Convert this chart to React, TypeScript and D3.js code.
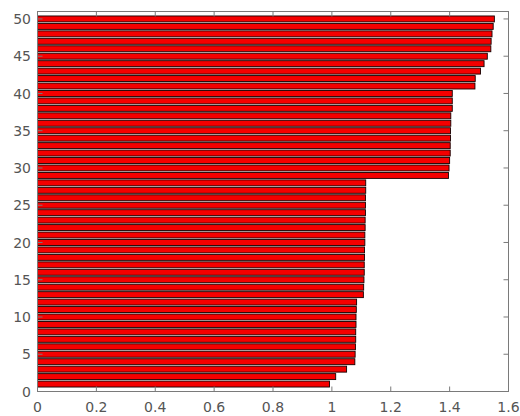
import React from "react";
import * as d3 from "d3";

// Bar values for categories 1..50 (sorted ascending)
const categories: number[] = d3.range(1, 51);
const values: number[] = [
  0.992, 1.013, 1.05, 1.078, 1.079, 1.08, 1.081, 1.081, 1.082, 1.082,
  1.083, 1.084, 1.107, 1.108, 1.109, 1.11, 1.11, 1.111, 1.111, 1.112,
  1.112, 1.113, 1.113, 1.114, 1.114, 1.114, 1.115, 1.115, 1.396, 1.398,
  1.4, 1.402, 1.402, 1.403, 1.403, 1.404, 1.404, 1.409, 1.409, 1.409,
  1.486, 1.487, 1.505, 1.517, 1.528, 1.54, 1.541, 1.544, 1.548, 1.552,
];
const xTicks: number[] = [0, 0.2, 0.4, 0.6, 0.8, 1, 1.2, 1.4, 1.6];
const yTicks: number[] = [0, 5, 10, 15, 20, 25, 30, 35, 40, 45, 50];

const W = 520;
const H = 416;
const left = 37.5;
const right = 508.5;
const top = 11.5;
const bottom = 391.5;

export default function App() {
  const x = d3.scaleLinear().domain([0, 1.6]).range([left, right]);
  const y = d3.scaleLinear().domain([0, 51]).range([bottom, top]);
  const barH = 0.8 * (y(0) - y(1));
  const axisColor = "#7a7a7a";
  const textColor = "#555";
  const tickLen = 5;
  const fmt = (v: number) => String(+v.toFixed(1));

  return (
    <svg
      width={W}
      height={H}
      style={{ position: "absolute", left: 0, top: 0, background: "#fff" }}
      fontFamily="DejaVu Sans, sans-serif"
    >
      <rect x={0} y={0} width={W} height={H} fill="#fff" />
      {categories.map((c, i) => (
        <rect
          key={c}
          x={x(0)}
          y={y(c) - barH / 2}
          width={x(values[i]) - x(0)}
          height={barH}
          fill="#f50000"
          stroke="#140000"
          strokeWidth={0.9}
        />
      ))}
      {/* box */}
      <rect
        x={left}
        y={top}
        width={right - left}
        height={bottom - top}
        fill="none"
        stroke={axisColor}
        strokeWidth={1}
      />
      {/* x ticks */}
      {xTicks.map((t) => (
        <g key={"x" + t}>
          <line x1={x(t)} x2={x(t)} y1={bottom} y2={bottom - tickLen} stroke={axisColor} />
          <line x1={x(t)} x2={x(t)} y1={top} y2={top + tickLen} stroke={axisColor} />
          <text
            x={x(t)}
            y={412}
            textAnchor="middle"
            fontSize={14}
            fill={textColor}
          >
            {fmt(t)}
          </text>
        </g>
      ))}
      {/* y ticks */}
      {yTicks.map((t) => (
        <g key={"y" + t}>
          <line x1={left} x2={left + tickLen} y1={y(t)} y2={y(t)} stroke={axisColor} />
          <line x1={right} x2={right - tickLen} y1={y(t)} y2={y(t)} stroke={axisColor} />
          <text
            x={31}
            y={y(t)}
            dy="0.36em"
            textAnchor="end"
            fontSize={14}
            fill={textColor}
          >
            {t}
          </text>
        </g>
      ))}
    </svg>
  );
}
